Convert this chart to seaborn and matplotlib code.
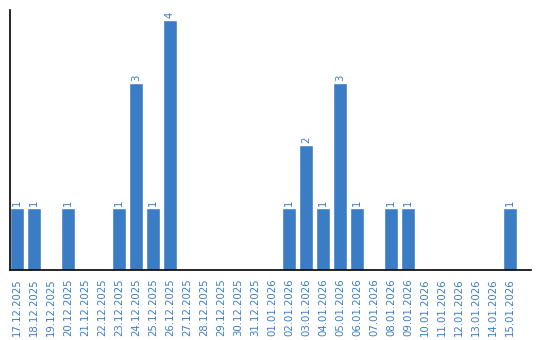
import matplotlib
matplotlib.use("Agg")
import matplotlib.pyplot as plt
import seaborn as sns
import pandas as pd

dates = ["17.12.2025", "18.12.2025", "19.12.2025", "20.12.2025", "21.12.2025",
         "22.12.2025", "23.12.2025", "24.12.2025", "25.12.2025", "26.12.2025",
         "27.12.2025", "28.12.2025", "29.12.2025", "30.12.2025", "31.12.2025",
         "01.01.2026", "02.01.2026", "03.01.2026", "04.01.2026", "05.01.2026",
         "06.01.2026", "07.01.2026", "08.01.2026", "09.01.2026", "10.01.2026",
         "11.01.2026", "12.01.2026", "13.01.2026", "14.01.2026", "15.01.2026"]
counts = [1, 1, 0, 1, 0, 0, 1, 3, 1, 4,
          0, 0, 0, 0, 0, 0, 1, 2, 1, 3,
          1, 0, 1, 1, 0, 0, 0, 0, 0, 1]

df = pd.DataFrame({"date": dates, "count": counts})
blue = "#3b7dc4"

sns.set_style("white")
fig = plt.figure(figsize=(5.4, 3.4), dpi=100)
ax = fig.add_axes([10/540, 70/340, 520.5/540, 260/340])
sns.barplot(data=df, x="date", y="count", color=blue, saturation=1, width=0.82, ax=ax)

for i, v in enumerate(counts):
    if v > 0:
        ax.text(i, v + 0.03, str(v), rotation=90, ha="center", va="bottom",
                color=blue, fontsize=7.3)

ax.set_xlim(-0.41, 30.2)
ax.set_ylim(0, 4.16)
ax.set_xlabel("")
ax.set_ylabel("")
ax.set_yticks([])
ax.tick_params(axis="x", length=0, pad=6, labelsize=7.3, labelcolor=blue, rotation=90)
for s in ["top", "right"]:
    ax.spines[s].set_visible(False)
for s in ["left", "bottom"]:
    ax.spines[s].set_color("black")
    ax.spines[s].set_linewidth(1.2)

fig.savefig("out.png", dpi=100)
